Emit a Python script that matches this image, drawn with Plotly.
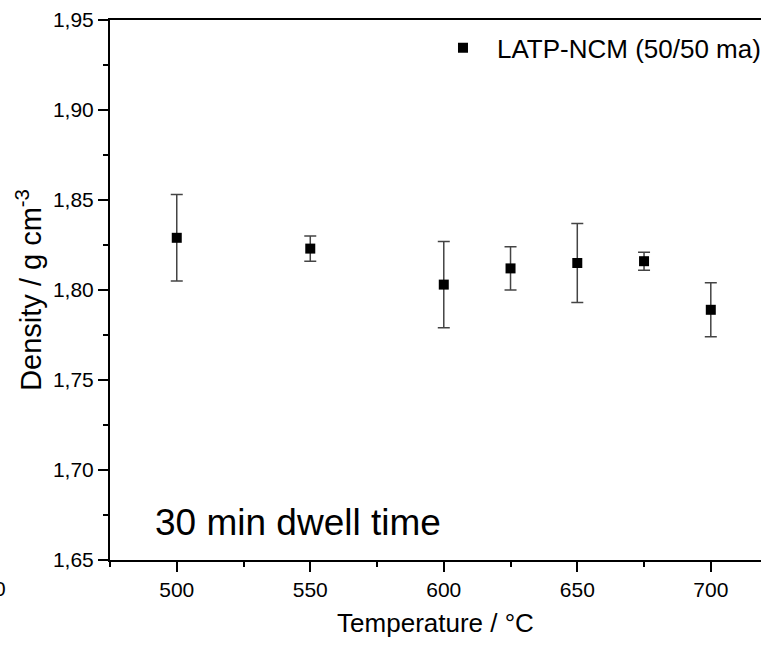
import plotly.graph_objects as go

temperature = [500, 550, 600, 625, 650, 675, 700]
density = [1.829, 1.823, 1.803, 1.812, 1.815, 1.816, 1.789]
density_err = [0.024, 0.007, 0.024, 0.012, 0.022, 0.005, 0.015]
series_name = "LATP-NCM (50/50 ma)"
y_ticks = [1.65, 1.70, 1.75, 1.80, 1.85, 1.90, 1.95]
x_ticks = [500, 550, 600, 650, 700]

FONT = "Liberation Sans, Arial, sans-serif"

fig = go.Figure()
fig.add_trace(go.Scatter(
    x=temperature, y=density, mode="markers", name=series_name,
    marker=dict(symbol="square", size=10, color="black"),
    error_y=dict(type="data", array=density_err, visible=True,
                 color="#444444", thickness=1.5, width=6),
    showlegend=True,
))

fig.update_layout(
    width=761, height=646,
    margin=dict(l=110, r=0, t=20, b=86, autoexpand=False),
    paper_bgcolor="white", plot_bgcolor="white",
    separators=",.",
    font=dict(family=FONT, color="black", size=21),
    showlegend=True,
    legend=dict(x=0.49, y=0.992, xanchor="left", yanchor="top",
                bgcolor="rgba(0,0,0,0)", font=dict(size=26, family=FONT),
                itemwidth=58),
    xaxis=dict(
        range=[475, 718.8], tickvals=x_ticks, ticks="outside", ticklen=10,
        tickwidth=1.5, tickcolor="black", showline=True, linecolor="black",
        linewidth=2, mirror=True, showgrid=False, zeroline=False,
        tickfont=dict(size=21, family=FONT),
        minor=dict(dtick=25, tick0=475, ticks="outside", ticklen=5,
                   tickcolor="black", tickwidth=1.5, showgrid=False),
        title=dict(text="Temperature / °C", font=dict(size=26, family=FONT),
                   standoff=14),
    ),
    yaxis=dict(
        range=[1.65, 1.95], tickvals=y_ticks, tickformat=".2f",
        ticks="outside", ticklen=10, tickwidth=1.5, tickcolor="black",
        showline=True, linecolor="black", linewidth=2, mirror=False,
        showgrid=False, zeroline=False,
        tickfont=dict(size=21, family=FONT),
        minor=dict(dtick=0.025, tick0=1.65, ticks="outside", ticklen=5,
                   tickcolor="black", tickwidth=1.5, showgrid=False),
        title=dict(text="Density / g cm<sup>-3</sup>",
                   font=dict(size=29, family=FONT), standoff=3),
    ),
    annotations=[
        dict(text="30 min dwell time", xref="paper", yref="paper",
             x=0.066, y=0.07, xanchor="left", yanchor="middle",
             showarrow=False, font=dict(size=37, family=FONT)),
        dict(text="0", xref="paper", yref="paper",
             x=-0.1567, y=-0.0537, xanchor="right", yanchor="middle",
             showarrow=False, font=dict(size=21, family=FONT)),
    ],
)

fig.write_html(
    "out.html",
    config={"displayModeBar": False},
    post_script="document.body.style.margin='0';document.body.style.overflow='hidden';",
)
